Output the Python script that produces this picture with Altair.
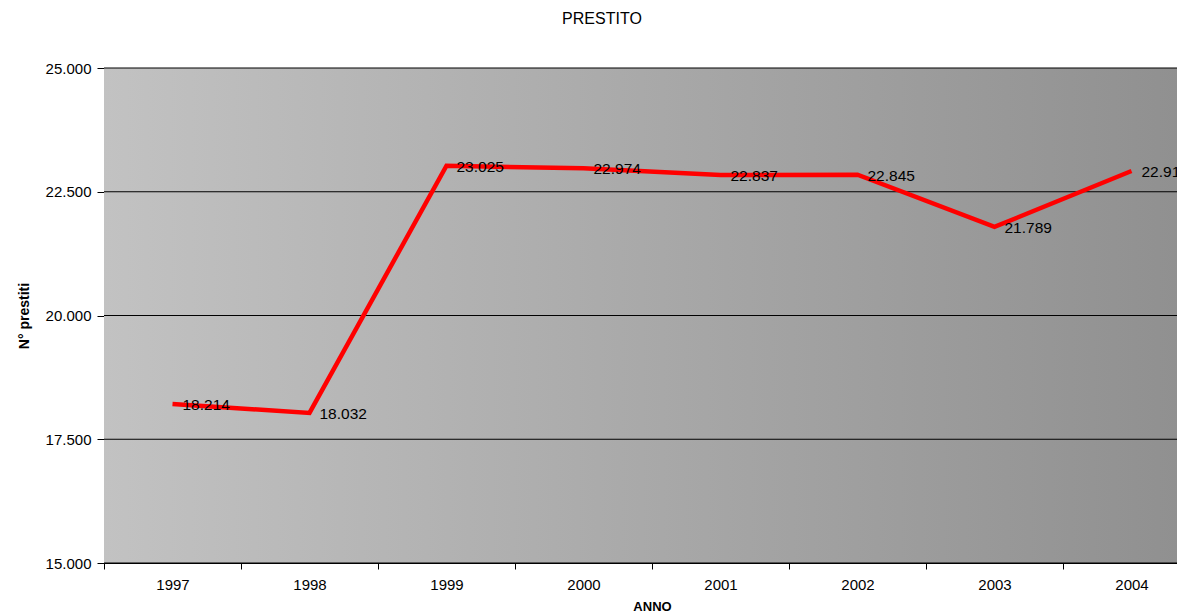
import altair as alt
import pandas as pd

anni = ["1997", "1998", "1999", "2000", "2001", "2002", "2003", "2004"]
prestiti = [18214, 18032, 23025, 22974, 22837, 22845, 21789, 22919]
y_ticks = [15000, 17500, 20000, 22500, 25000]

df = pd.DataFrame({
    "anno": anni,
    "prestiti": prestiti,
    "label": [f"{v:,}".replace(",", ".") for v in prestiti],
})
grid_df = pd.DataFrame({"prestiti": y_ticks})

FONT = "Liberation Sans"
W, H = 1073, 495
FULL_W = 1096

x_enc = alt.X(
    "anno:O",
    sort=anni,
    bandPosition=0.5,
    scale=alt.Scale(type="band", range=[0, FULL_W], paddingInner=0, paddingOuter=0),
    axis=alt.Axis(
        title="ANNO", labelAngle=0, tickBand="extent", tickSize=6,
        labelFontSize=15, labelPadding=8, titleFontSize=13, titleFontWeight="bold",
        titlePadding=8, domainColor="black", tickColor="black", labelColor="black",
        titleColor="black", labelFont=FONT, titleFont=FONT, titleX=548,
    ),
)
y_scale = alt.Scale(domain=[15000, 25000], nice=False, zero=False)
y_enc = alt.Y(
    "prestiti:Q",
    scale=y_scale,
    axis=alt.Axis(
        title="N° prestiti", values=y_ticks, grid=False,
        tickSize=7, labelFontSize=15, labelPadding=6,
        labelExpr="replace(format(datum.value, ',.0f'), ',', '.')",
        titleFontSize=14, titleFontWeight="bold", titlePadding=14,
        domainColor="black", tickColor="black", labelColor="black", titleColor="black",
        labelFont=FONT, titleFont=FONT,
    ),
)

bg = alt.Chart(alt.Data(values=[{}])).mark_rect(
    color=alt.LinearGradient(
        gradient="linear", x1=0, x2=1, y1=0, y2=0,
        stops=[alt.GradientStop(color="#c2c2c2", offset=0),
               alt.GradientStop(color="#8f8f8f", offset=1)],
    )
).encode(x=alt.value(0), x2=alt.value(FULL_W), y=alt.value(0), y2=alt.value(H))

grid = alt.Chart(grid_df).mark_rule(color="black", strokeWidth=1).encode(
    y=alt.Y("prestiti:Q", scale=y_scale),
    x=alt.value(0), x2=alt.value(FULL_W),
)

base = alt.Chart(df).encode(x=x_enc, y=y_enc)

line = base.mark_line(color="#ff0000", strokeWidth=4.5)
text = base.mark_text(align="left", baseline="middle", dx=10, dy=1, fontSize=15.5,
                      font=FONT, color="black").encode(text="label:N")

chart = (
    alt.layer(bg, grid, line, text)
    .properties(
        width=W, height=H,
        title=alt.TitleParams("PRESTITO", fontSize=16, font=FONT, fontWeight="normal",
                              color="black", offset=34, anchor="start", dx=545),
        autosize=alt.AutoSizeParams(type="none"),
        padding={"left": 96, "top": 60, "right": 0, "bottom": 52},
    )
    .configure_view(stroke=None)
)

chart.save("out.html", embed_options={"renderer": "svg", "actions": False})
